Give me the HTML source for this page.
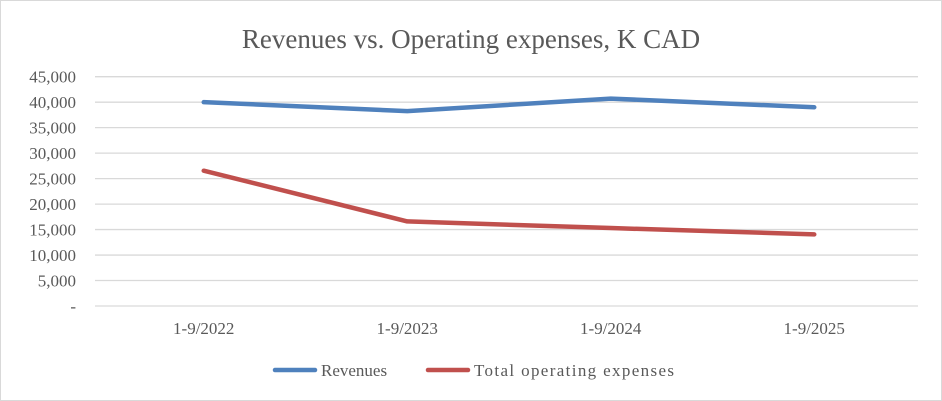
<!DOCTYPE html>
<html><head><meta charset="utf-8"><style>
html,body{margin:0;padding:0;background:#fff;}
svg{display:block;font-family:"Liberation Serif",serif;}
</style></head><body>
<svg width="942" height="401" viewBox="0 0 942 401">
<rect x="0.5" y="0.5" width="941" height="400" fill="#fff" stroke="#d9d9d9"/>
<text x="471" y="48" text-anchor="middle" font-size="27" fill="#595959">Revenues vs. Operating expenses, K CAD</text>
<g id="grid"></g><g id="ylab"></g><g id="xlab"></g><g id="series"></g>
<g>
<line x1="275" y1="370" x2="315" y2="370" stroke="#4f81bd" stroke-width="4.5" stroke-linecap="round"/>
<text x="321" y="376" font-size="17" fill="#595959">Revenues</text>
<line x1="428" y1="370" x2="468" y2="370" stroke="#c0504d" stroke-width="4.5" stroke-linecap="round"/>
<text x="474" y="376" font-size="17" fill="#595959" textLength="200">Total operating expenses</text>
</g>
</svg>
<script>
const categories=["1-9/2022","1-9/2023","1-9/2024","1-9/2025"];
const revenues=[40000,38250,40700,39000];
const expenses=[26550,16600,15300,14050];
const yTicks=[0,5000,10000,15000,20000,25000,30000,35000,40000,45000];
const yTickLabels=["-","5,000","10,000","15,000","20,000","25,000","30,000","35,000","40,000","45,000"];
const NS="http://www.w3.org/2000/svg";
const X0=95,X1=918,Y0=306,Y1=76.7,YMAX=45000;
const PX0=102,PX1=916;
const y=v=>Y0-(v/YMAX)*(Y0-Y1);
const bw=(PX1-PX0)/categories.length;
const x=i=>PX0+bw*(i+0.5);
function mk(t,a,p){const e=document.createElementNS(NS,t);for(const k in a)e.setAttribute(k,a[k]);p.appendChild(e);return e;}
const grid=document.getElementById('grid'),yl=document.getElementById('ylab'),xl=document.getElementById('xlab'),se=document.getElementById('series');
yTicks.forEach((t,i)=>{
 const l=mk('line',{x1:X0,x2:X1,y1:y(t),y2:y(t),stroke:'#d9d9d9','stroke-width':1.3},grid);
 
 
 const tx=mk('text',{x:76,y:y(t)+6,'text-anchor':'end','font-size':17,fill:'#595959'},yl);
 tx.textContent=yTickLabels[i];
 
 
});
categories.forEach((c,i)=>{
 const tx=mk('text',{x:x(i),y:334,'text-anchor':'middle','font-size':17,fill:'#595959'},xl);
 tx.textContent=c;
 
 
});
function line(vals,color,name){
 const p=mk('polyline',{points:vals.map((v,i)=>x(i)+','+y(v)).join(' '),fill:'none',stroke:color,'stroke-width':4.5,'stroke-linejoin':'round','stroke-linecap':'round'},se);
 
 
}
line(revenues,'#4f81bd','revenues-line');
line(expenses,'#c0504d','expenses-line');
</script>
</body></html>
